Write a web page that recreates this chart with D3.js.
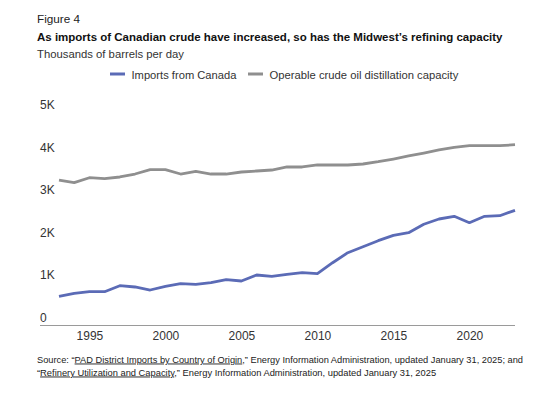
<!DOCTYPE html>
<html>
<head>
<meta charset="utf-8">
<script src="https://cdn.jsdelivr.net/npm/d3@7/dist/d3.min.js"></script>
<style>
  html, body { margin: 0; padding: 0; background: #fff; }
  svg { display: block; }
  text { font-family: "Liberation Sans Narrow", "Arial Narrow", "Liberation Sans", sans-serif; }
</style>
</head>
<body>
<svg id="chart" width="550" height="396"></svg>
<script>
// ---- data ----
const years = d3.range(1993, 2024);
const importsCanada = [685, 756, 793, 793, 934, 904, 833, 920, 981, 967,
  1005, 1075, 1045, 1185, 1155, 1202, 1239, 1216, 1474, 1709,
  1850, 1991, 2117, 2178, 2376, 2500, 2563, 2413, 2563, 2577, 2704];
const capacity = [3415, 3352, 3469, 3446, 3486, 3556, 3657, 3657, 3556, 3620,
  3556, 3556, 3603, 3627, 3650, 3721, 3721, 3768, 3768, 3768,
  3791, 3845, 3908, 3979, 4049, 4120, 4183, 4221, 4221, 4221, 4244];
const yTicks = [0, 1000, 2000, 3000, 4000, 5000];
const yTickLabels = ["0", "1K", "2K", "3K", "4K", "5K"];
const xTicks = [1995, 2000, 2005, 2010, 2015, 2020];
const seriesNames = ["Imports from Canada", "Operable crude oil distillation capacity"];

// ---- layout ----
const svg = d3.select("#chart");
const blue = "#5b6bb6", gray = "#8f8f8f";
const x = d3.scaleLinear().domain([1993, 2023]).range([59, 515]);
const y = d3.scaleLinear().domain([0, 5000]).range([325.5, 112.5]);

// scale the font size so the text spans the target width
function fit(sel, w) {
  sel.each(function () {
    const el = d3.select(this);
    const l = this.getComputedTextLength();
    const fs = parseFloat(el.attr("font-size"));
    if (l > 0) el.attr("font-size", (fs * w / l).toFixed(2));
  });
}

// Titles
svg.append("text").attr("x", 37).attr("y", 23).attr("font-size", 12)
  .attr("fill", "#222").text("Figure 4").call(fit, 43);
svg.append("text").attr("x", 37).attr("y", 41).attr("font-size", 13)
  .attr("font-weight", "bold").attr("fill", "#111")
  .text("As imports of Canadian crude have increased, so has the Midwest\u2019s refining capacity")
  .call(fit, 466);
svg.append("text").attr("x", 37).attr("y", 57.5).attr("font-size", 12.5)
  .attr("fill", "#333").text("Thousands of barrels per day").call(fit, 147);

// Legend
const legend = [
  {name: seriesNames[0], color: blue, sx: 110, tx: 131.5, w: 105},
  {name: seriesNames[1], color: gray, sx: 248, tx: 269.5, w: 189}
];
legend.forEach(l => {
  svg.append("line").attr("x1", l.sx).attr("x2", l.sx + 15).attr("y1", 74).attr("y2", 74)
    .attr("stroke", l.color).attr("stroke-width", 3);
  svg.append("text").attr("x", l.tx).attr("y", 78.5).attr("font-size", 12.5)
    .attr("fill", "#333").text(l.name).call(fit, l.w);
});

// Y axis labels (above the value line)
svg.append("g").selectAll("text").data(yTicks).join("text")
  .attr("x", 40).attr("y", d => y(d) - 3.5)
  .attr("font-size", 12).attr("fill", "#333")
  .text((d, i) => yTickLabels[i]);

// X axis
const xAxis = d3.axisBottom(x).tickValues(xTicks).tickFormat(d3.format("d")).tickSize(0).tickPadding(6);
const gx = svg.append("g").attr("transform", `translate(0,${y(0)})`).call(xAxis);
gx.select(".domain").remove();
gx.selectAll("text").attr("font-size", 12).attr("fill", "#333")
  .style("font-family", "\"Liberation Sans Narrow\", \"Arial Narrow\", sans-serif");
svg.append("line").attr("x1", 40).attr("x2", 515).attr("y1", y(0)).attr("y2", y(0))
  .attr("stroke", "#9a9a9a").attr("stroke-width", 1);

// Lines
const line = d3.line().x((d, i) => x(years[i])).y(d => y(d));
svg.append("path").datum(capacity).attr("d", line).attr("fill", "none")
  .attr("stroke", gray).attr("stroke-width", 2.8).attr("stroke-linejoin", "round");
svg.append("path").datum(importsCanada).attr("d", line).attr("fill", "none")
  .attr("stroke", blue).attr("stroke-width", 2.8).attr("stroke-linejoin", "round");

// Source
const s1 = svg.append("text").attr("x", 37).attr("y", 362.5).attr("font-size", 10).attr("fill", "#222");
s1.append("tspan").text("Source: \u201C");
s1.append("tspan").attr("text-decoration", "underline").text("PAD District Imports by Country of Origin");
s1.append("tspan").text(",\u201D Energy Information Administration, updated January 31, 2025; and");
s1.call(fit, 486);
const s2 = svg.append("text").attr("x", 37).attr("y", 375.5).attr("font-size", 10).attr("fill", "#222");
s2.append("tspan").text("\u201C");
s2.append("tspan").attr("text-decoration", "underline").text("Refinery Utilization and Capacity");
s2.append("tspan").text(",\u201D Energy Information Administration, updated January 31, 2025");
s2.call(fit, 399);
</script>
</body>
</html>
